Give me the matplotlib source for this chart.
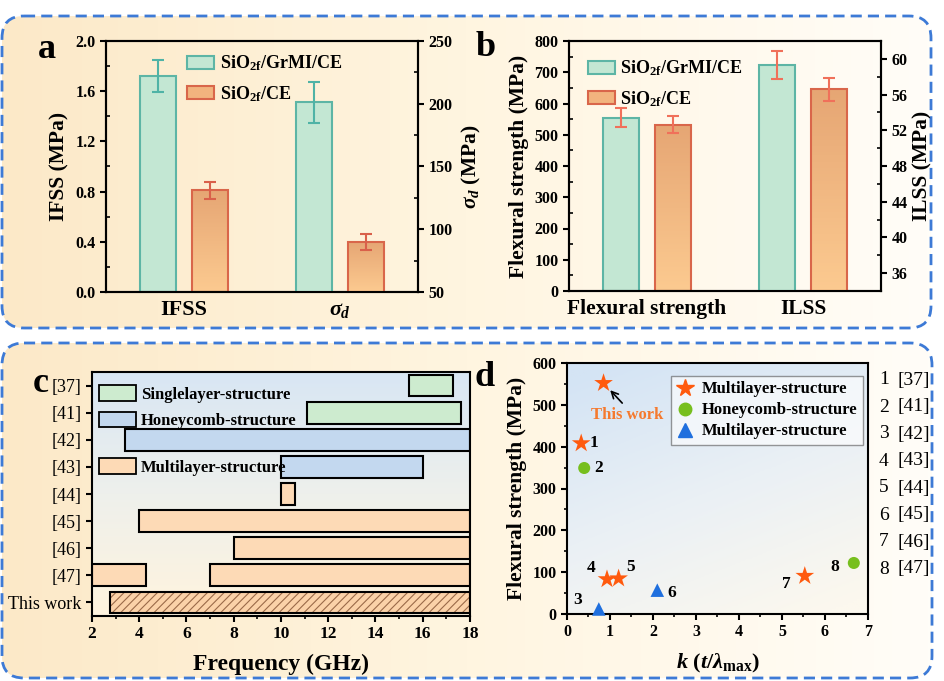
import numpy as np
import matplotlib
matplotlib.use('Agg')
import matplotlib.pyplot as plt
from matplotlib.patches import FancyBboxPatch, Patch
from matplotlib.lines import Line2D
from matplotlib.colors import LinearSegmentedColormap
from matplotlib.ticker import MultipleLocator

plt.rcParams['font.family'] = ['Liberation Serif', 'DejaVu Serif']
plt.rcParams['font.weight'] = 'bold'
plt.rcParams['axes.labelweight'] = 'bold'
plt.rcParams['mathtext.fontset'] = 'custom'
plt.rcParams['mathtext.rm'] = 'Liberation Serif:bold'
plt.rcParams['mathtext.it'] = 'Liberation Serif:italic:bold'
plt.rcParams['mathtext.bf'] = 'Liberation Serif:bold'
plt.rcParams['axes.linewidth'] = 1.5
plt.rcParams['hatch.linewidth'] = 0.8

# ---- data ----
series = [r'SiO$_{\mathrm{2f}}$/GrMI/CE', r'SiO$_{\mathrm{2f}}$/CE']
# panel a
a_groups = ['IFSS', r'$\sigma_d$']
ifss = [1.72, 0.81]
ifss_err = [0.13, 0.07]
sigma_d = [201, 90]
sigma_d_err = [16, 6.5]
# panel b
b_groups = ['Flexural strength', 'ILSS']
flex = [555, 532]
flex_err = [30, 27]
ilss = [59.3, 56.6]
ilss_err = [1.6, 1.3]
# panel c
c_rows = ['This work', '[47]', '[46]', '[45]', '[44]', '[43]', '[42]', '[41]', '[37]']
band_ref = ['[37]', '[41]', '[42]', '[43]', '[44]', '[45]', '[46]', '[47]', '[47]', 'This work']
band_lo = [15.4, 11.1, 3.4, 10.0, 10.0, 4.0, 8.0, 2.0, 7.0, 2.75]
band_hi = [17.3, 17.6, 18.0, 16.0, 10.6, 18.0, 18.0, 4.3, 18.0, 18.0]
band_kind = ['single', 'single', 'honey', 'honey', 'multi', 'multi', 'multi', 'multi', 'multi', 'this']
# panel d
d_k = [0.85, 0.33, 0.40, 0.74, 0.93, 1.20, 2.10, 5.53, 6.67]
d_fs = [552, 408, 349, 12, 83, 85, 57, 91, 122]
d_kind = ['star', 'star', 'circle', 'tri', 'star', 'star', 'tri', 'star', 'circle']
d_num = ['', '1', '2', '3', '4', '5', '6', '7', '8']
d_refs = ['[37]', '[41]', '[42]', '[43]', '[44]', '[45]', '[46]', '[47]']

# ---- styles ----
GREEN_F, GREEN_E = '#C3E7D3', '#5DB5A5'
OR_TOP, OR_BOT, OR_E = '#E6A674', '#FCCA90', '#D9664A'
c_colors = {'single': '#CDEBCF', 'honey': '#C3D8EF', 'multi': '#FDDAB6', 'this': '#FBD2A8'}
c_labels = {'single': 'Singlelayer-structure', 'honey': 'Honeycomb-structure',
            'multi': 'Multilayer-structure'}
d_style = {'star': ('*', '#FF5A0E', 200, 'Multilayer-structure'),
           'circle': ('o', '#77BF1E', 75, 'Honeycomb-structure'),
           'tri': ('^', '#1F6FDE', 95, 'Multilayer-structure')}
num_off = {'1': (13, 0), '2': (14, 0), '3': (-21, 9), '4': (-16, 11), '5': (12, 11),
           '6': (14, -3), '7': (-18, -8), '8': (-19, -4)}

W, H = 945, 681
fig = plt.figure(figsize=(W / 100, H / 100), dpi=100)


def fx(px):
    return px / W


def fy(py):
    return 1 - py / H


# background boxes
bg = fig.add_axes([0, 0, 1, 1], zorder=-10)
bg.set_xlim(0, W)
bg.set_ylim(H, 0)
bg.axis('off')
bg_cmap = LinearSegmentedColormap.from_list('bg', ['#FCE9C8', '#FFF5E0', '#FFFDF8'])
for (x0, y0, x1, y1) in [(2, 16, 931, 328), (2, 343, 932, 678)]:
    box = FancyBboxPatch((x0, y0), x1 - x0, y1 - y0, boxstyle='round,pad=0,rounding_size=22',
                         facecolor='none', edgecolor='#3D7AD6', lw=2.0, ls=(0, (4, 2.2)), zorder=3)
    bg.add_patch(box)
    im = bg.imshow(np.linspace(0, 1, 256).reshape(1, -1), cmap=bg_cmap, extent=[x0, x1, y1, y0],
                   aspect='auto', zorder=1)
    im.set_clip_path(box)
bg.set_xlim(0, W)
bg.set_ylim(H, 0)


def grad_bars(ax, bars, c_top, c_bot):
    cmap = LinearSegmentedColormap.from_list('g', [c_bot, c_top])
    for b in bars:
        x, y = b.get_xy()
        im = ax.imshow(np.linspace(0, 1, 64).reshape(-1, 1), cmap=cmap, origin='lower',
                       extent=[x, x + b.get_width(), y, y + b.get_height()],
                       aspect='auto', zorder=1.5)
        im.set_clip_path(b)
        b.set_facecolor('none')


def bar_pair(ax, ax2, left_vals, left_err, right_vals, right_err, right_lo, ecol):
    off, w = 0.167, 0.235
    pos = np.array([1 - off, 1 + off])
    b1 = ax.bar(pos[0], left_vals[0], w, color=GREEN_F, edgecolor=GREEN_E, lw=1.5, zorder=2)
    b2 = ax.bar(pos[1], left_vals[1], w, color=OR_BOT, edgecolor=OR_E, lw=1.5, zorder=2)
    grad_bars(ax, b2, OR_TOP, OR_BOT)
    ax.errorbar(pos[0], left_vals[0], yerr=left_err[0], color=ecol[0], capsize=4,
                elinewidth=1.5, capthick=1.5, zorder=3)
    ax.errorbar(pos[1], left_vals[1], yerr=left_err[1], color=ecol[1], capsize=4,
                elinewidth=1.5, capthick=1.5, zorder=3)
    pos2 = pos + 1
    r = np.array(right_vals)
    b3 = ax2.bar(pos2[0], r[0] - right_lo, w, bottom=right_lo, color=GREEN_F,
                 edgecolor=GREEN_E, lw=1.5, zorder=2)
    b4 = ax2.bar(pos2[1], r[1] - right_lo, w, bottom=right_lo, color=OR_BOT,
                 edgecolor=OR_E, lw=1.5, zorder=2)
    grad_bars(ax2, b4, OR_TOP, OR_BOT)
    ax2.errorbar(pos2[0], r[0], yerr=right_err[0], color=ecol[0], capsize=4,
                 elinewidth=1.5, capthick=1.5, zorder=3)
    ax2.errorbar(pos2[1], r[1], yerr=right_err[1], color=ecol[1], capsize=4,
                 elinewidth=1.5, capthick=1.5, zorder=3)


leg_handles = [Patch(facecolor=GREEN_F, edgecolor=GREEN_E, lw=1.5),
               Patch(facecolor='#F2B47E', edgecolor=OR_E, lw=1.5)]

# ---- panel a ----
ax_a = fig.add_axes([fx(106), fy(292), fx(312), 251 / H])
ax_a.set_facecolor('none')
ax_a2 = ax_a.twinx()
bar_pair(ax_a, ax_a2, ifss, ifss_err, sigma_d, sigma_d_err, 50, ['#4FB3A6', '#D9604A'])
ax_a.set_xlim(0.5, 2.5)
ax_a.set_ylim(0, 2.0)
ax_a2.set_ylim(50, 250)
ax_a.set_xticks([1, 2])
ax_a.set_xticklabels(a_groups, fontsize=16)
ax_a.tick_params(axis='x', length=0, pad=6)
ax_a.yaxis.set_minor_locator(MultipleLocator(0.2))
ax_a2.yaxis.set_major_locator(MultipleLocator(50))
ax_a2.yaxis.set_minor_locator(MultipleLocator(25))
ax_a.set_yticks(np.arange(0, 2.01, 0.4))
ax_a.set_yticklabels([f'{v:.1f}' for v in np.arange(0, 2.01, 0.4)])
for a in (ax_a, ax_a2):
    a.tick_params(axis='y', which='major', direction='out', length=4, width=1.5, labelsize=11.5)
    a.tick_params(axis='y', which='minor', direction='in', length=3, width=1.2)
ax_a.set_ylabel('IFSS (MPa)', fontsize=15.5, labelpad=4)
ax_a2.set_ylabel(r'$\sigma_d$ (MPa)', fontsize=15.5, labelpad=5)
ax_a2.legend(leg_handles, series, loc='upper left', bbox_to_anchor=(0.22, 1.0), frameon=False,
             fontsize=13, handlelength=1.5, handleheight=0.75, labelspacing=0.6,
             handletextpad=0.3, borderaxespad=0.3)

# ---- panel b ----
ax_b = fig.add_axes([fx(569), fy(291), fx(312), 250 / H])
ax_b.set_facecolor('none')
ax_b2 = ax_b.twinx()
bar_pair(ax_b, ax_b2, flex, flex_err, ilss, ilss_err, 34, ['#F0705A', '#F0705A'])
ax_b.set_xlim(0.5, 2.5)
ax_b.set_ylim(0, 800)
ax_b2.set_ylim(34, 62)
ax_b.set_xticks([1, 2])
ax_b.set_xticklabels(b_groups, fontsize=15.5)
ax_b.tick_params(axis='x', length=0, pad=6)
ax_b.yaxis.set_major_locator(MultipleLocator(100))
ax_b.yaxis.set_minor_locator(MultipleLocator(50))
ax_b2.set_yticks(np.arange(36, 61, 4))
ax_b2.yaxis.set_minor_locator(MultipleLocator(2))
for a in (ax_b, ax_b2):
    a.tick_params(axis='y', which='major', direction='out', length=4, width=1.5, labelsize=11.5)
    a.tick_params(axis='y', which='minor', direction='in', length=3, width=1.2)
ax_b.set_ylabel('Flexural strength (MPa)', fontsize=15.5, labelpad=4)
ax_b2.set_ylabel('ILSS (MPa)', fontsize=15.5, labelpad=4)
ax_b2.legend(leg_handles, series, loc='upper left', bbox_to_anchor=(0.02, 0.98), frameon=False,
             fontsize=13, handlelength=1.5, handleheight=0.75, labelspacing=0.6,
             handletextpad=0.3, borderaxespad=0.3)

# ---- panel c ----
ax_c = fig.add_axes([fx(92), fy(616), fx(378), 244 / H])
c_cmap = LinearSegmentedColormap.from_list('c', ['#FFF4DE', '#EEF0EC', '#D8E6F4'])
ax_c.imshow(np.linspace(0, 1, 128).reshape(-1, 1), cmap=c_cmap, origin='lower',
            extent=[2, 18, -0.5, 8.5], aspect='auto', zorder=0)
row_y = {r: i for i, r in enumerate(c_rows)}
for ref, lo, hi, kind in zip(band_ref, band_lo, band_hi, band_kind):
    y = row_y[ref]
    if kind == 'this':
        ax_c.barh(y, hi - lo, 0.8, left=lo, color=c_colors[kind], edgecolor='#9A6A48',
                  hatch='////', lw=0, zorder=2)
        ax_c.barh(y, hi - lo, 0.8, left=lo, color='none', edgecolor='black', lw=1.5, zorder=3)
    else:
        ax_c.barh(y, hi - lo, 0.8, left=lo, color=c_colors[kind], edgecolor='black',
                  lw=1.5, zorder=2)
ax_c.set_xlim(2, 18)
ax_c.set_ylim(-0.5, 8.5)
ax_c.set_yticks(range(len(c_rows)))
ax_c.set_yticklabels(c_rows, fontsize=13, fontweight='normal')
ax_c.xaxis.set_major_locator(MultipleLocator(2))
ax_c.xaxis.set_minor_locator(MultipleLocator(1))
ax_c.tick_params(axis='x', which='major', direction='out', length=4, width=1.5, labelsize=12.5)
ax_c.tick_params(axis='x', which='minor', direction='out', length=2.5, width=1.2)
ax_c.tick_params(axis='y', direction='out', length=4, width=1.5)
ax_c.set_xlabel('Frequency (GHz)', fontsize=17, labelpad=8)
h_c = {k: Patch(facecolor=c_colors[k], edgecolor='black', lw=1.3) for k in c_labels}
lg1 = ax_c.legend([h_c['single'], h_c['honey']], [c_labels['single'], c_labels['honey']],
                  loc='upper left', bbox_to_anchor=(-0.01, 0.99), frameon=False, fontsize=12,
                  handlelength=2.2, handleheight=1.05, labelspacing=0.55, handletextpad=0.3,
                  borderaxespad=0.25)
ax_c.add_artist(lg1)
ax_c.legend([h_c['multi']], [c_labels['multi']], loc='center left', bbox_to_anchor=(-0.01, 0.61),
            frameon=False, fontsize=12, handlelength=2.2, handleheight=1.05,
            handletextpad=0.3, borderaxespad=0.25)

# ---- panel d ----
ax_d = fig.add_axes([fx(567), fy(614), fx(301), 251 / H])
gx, gy = np.meshgrid(np.linspace(0, 1, 128), np.linspace(0, 1, 128))
d_cmap = LinearSegmentedColormap.from_list('d', ['#FCF8EE', '#EAF0F5', '#D4E4F4'])
ax_d.imshow(np.clip(0.75 * gy + 0.35 * (1 - gx) - 0.05, 0, 1), cmap=d_cmap, origin='lower',
            extent=[0, 7, 0, 600], aspect='auto', zorder=0)
for kind in ['star', 'circle', 'tri']:
    m, col, s, lab = d_style[kind]
    xs = [k for k, t in zip(d_k, d_kind) if t == kind]
    ys = [v for v, t in zip(d_fs, d_kind) if t == kind]
    ax_d.scatter(xs, ys, marker=m, s=s, color=col, edgecolor='none', zorder=3, clip_on=False)
for k, v, n in zip(d_k, d_fs, d_num):
    if n:
        ax_d.annotate(n, (k, v), xytext=num_off[n], textcoords='offset pixels',
                      ha='center', va='center', fontsize=12.5, zorder=4)
ax_d.annotate('This work', xy=(d_k[0], d_fs[0]), xytext=(1.40, 476), ha='center', va='center',
              fontsize=12, color='#F57A2E',
              arrowprops=dict(arrowstyle='->', color='black', lw=1.2, shrinkA=1, shrinkB=7,
                              relpos=(0.48, 1.0)))
ax_d.set_xlim(0, 7)
ax_d.set_ylim(0, 600)
ax_d.xaxis.set_major_locator(MultipleLocator(1))
ax_d.xaxis.set_minor_locator(MultipleLocator(0.5))
ax_d.yaxis.set_major_locator(MultipleLocator(100))
ax_d.yaxis.set_minor_locator(MultipleLocator(50))
ax_d.tick_params(which='major', direction='out', length=4, width=1.5, labelsize=11.5)
ax_d.tick_params(which='minor', direction='out', length=2.5, width=1.2)
ax_d.set_ylabel('Flexural strength (MPa)', fontsize=15.5, labelpad=4)
ax_d.set_xlabel(r'$k$ ($t$/$\lambda_{\mathrm{max}}$)', fontsize=16, labelpad=8)
d_handles = [Line2D([], [], ls='none', marker=d_style[k][0], color=d_style[k][1],
                    markersize={'star': 13, 'circle': 9, 'tri': 10}[k]) for k in ['star', 'circle', 'tri']]
ax_d.legend(d_handles, [d_style[k][3] for k in ['star', 'circle', 'tri']], loc='upper right',
            bbox_to_anchor=(0.985, 0.95), fontsize=12, frameon=True, fancybox=False,
            edgecolor='#555555', framealpha=0.6, handlelength=1.0, handletextpad=0.5,
            labelspacing=0.3, borderpad=0.35, borderaxespad=0.0)
for i, r in enumerate(d_refs):
    fig.text(fx(884), fy(380 + i * 27), str(i + 1), ha='center', va='center',
             fontsize=14, fontweight='normal')
    fig.text(fx(914), fy(380 + i * 27), r, ha='center', va='center', fontsize=14,
             fontweight='normal')

# panel letters
for lab, px, py in [('a', 47, 50), ('b', 486, 48), ('c', 41, 383), ('d', 485, 377)]:
    fig.text(fx(px), fy(py), lab, ha='center', va='center', fontsize=26, fontweight='bold')

fig.savefig('out.png', dpi=100)
